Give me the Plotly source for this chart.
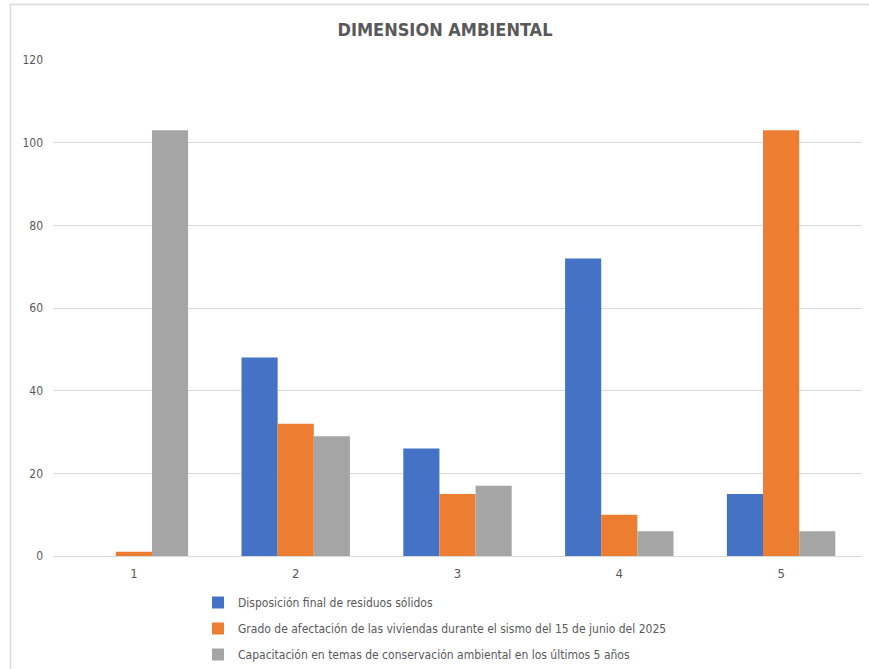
import plotly.graph_objects as go

categories = ["1", "2", "3", "4", "5"]
series_names = [
    "Disposición final de residuos sólidos",
    "Grado de afectación de las viviendas durante el sismo del 15 de junio del 2025",
    "Capacitación en temas de conservación ambiental en los últimos 5 años",
]
disposicion = [0, 48, 26, 72, 15]
afectacion = [1, 32, 15, 10, 103]
capacitacion = [103, 29, 17, 6, 6]
colors = ["#4472C4", "#ED7D31", "#A5A5A5"]
y_ticks = [0, 20, 40, 60, 80, 100, 120]

FONT = "DejaVu Sans Condensed, Liberation Sans Narrow, Roboto, sans-serif"

fig = go.Figure()
for i, (name, vals) in enumerate(zip(series_names, [disposicion, afectacion, capacitacion])):
    fig.add_trace(go.Bar(
        x=categories, y=vals, name=name,
        marker=dict(color=colors[i], line=dict(width=0)),
        legendgroup=f"g{i}",
    ))

W, H = 869, 669
L, R, T, B = 53, 7, 60, 113
pw = W - L - R
ph = H - T - B

fig.update_layout(
    width=W, height=H,
    margin=dict(l=L, r=R, t=T, b=B, pad=0, autoexpand=False),
    paper_bgcolor="white", plot_bgcolor="white",
    barmode="group", bargap=0.33, bargroupgap=0,
    font=dict(family=FONT, size=12, color="#595959"),
    title=dict(text="<b>DIMENSION AMBIENTAL</b>", x=445 / W, xref="container",
               xanchor="center", y=1 - 30 / H, yref="container", yanchor="middle",
               font=dict(family=FONT, size=18, color="#595959")),
    xaxis=dict(showgrid=False, showline=True, linecolor="#d9d9d9", linewidth=1,
               ticks="", tickfont=dict(size=13, color="#595959"), ticklabelstandoff=5),
    yaxis=dict(range=[0, 120], tickvals=y_ticks, showgrid=True, gridcolor="#d9d9d9",
               gridwidth=1, zeroline=False, showline=False, ticks="",
               tickfont=dict(size=12, color="#595959"), ticklabelstandoff=9),
    legend=dict(orientation="v", x=198 / W, xref="container", xanchor="left",
                y=1 - 588 / H, yref="container", yanchor="top",
                font=dict(family=FONT, size=12, color="#595959"),
                tracegroupgap=7, bgcolor="rgba(0,0,0,0)"),
    showlegend=True,
)

# chart border (top and left)
fig.add_shape(type="line", xref="paper", yref="paper",
              x0=(10 - L) / pw, x1=(W + 5 - L) / pw,
              y0=(T + ph - 4.5) / ph, y1=(T + ph - 4.5) / ph,
              line=dict(color="#d9d9d9", width=1.5))
fig.add_shape(type="line", xref="paper", yref="paper",
              x0=(10.5 - L) / pw, x1=(10.5 - L) / pw,
              y0=(T + ph - 4.5) / ph, y1=-(H + 5 - T - ph) / ph,
              line=dict(color="#d9d9d9", width=1.5))

fig.write_html("out.html")
